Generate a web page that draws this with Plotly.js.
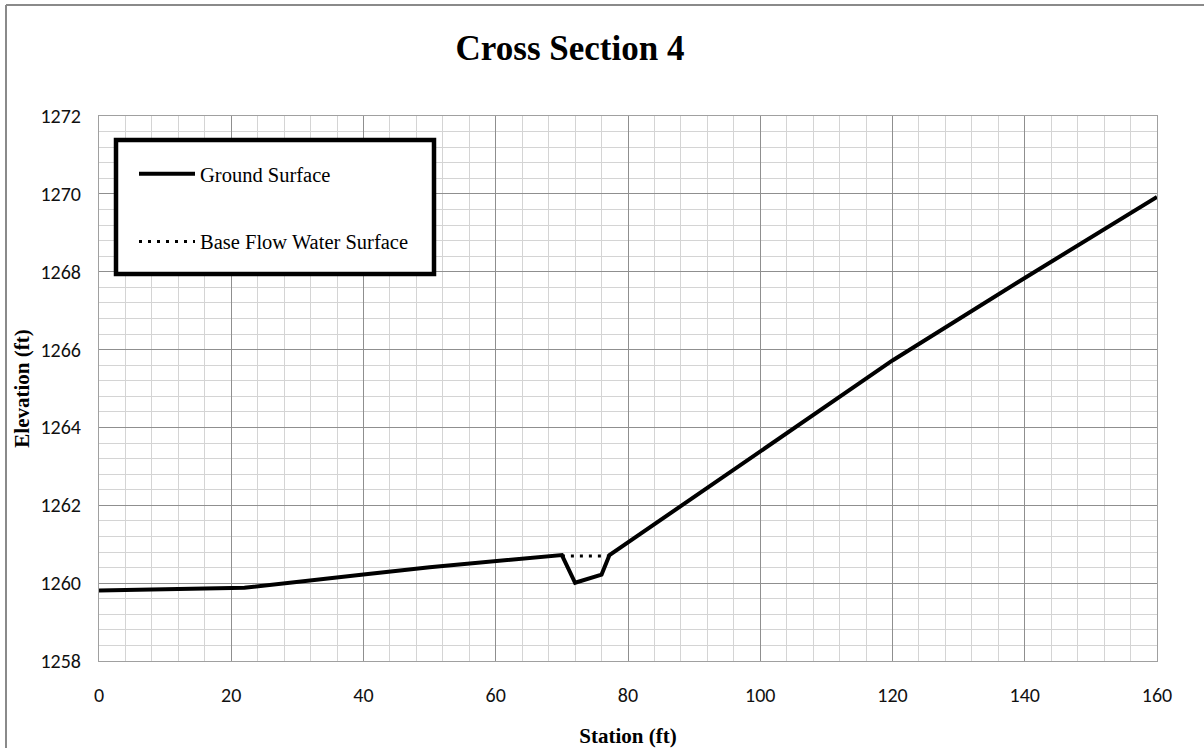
<!DOCTYPE html>
<html>
<head>
<meta charset="utf-8">
<script src="https://cdn.plot.ly/plotly-3.0.1.min.js"></script>
<style>
html,body{margin:0;padding:0;background:#fff;}
#chart{width:1204px;height:748px;}
</style>
</head>
<body>
<div id="chart"></div>
<script>
// Ground surface profile
const groundStation = [0, 22, 40, 50, 70, 72, 76, 77.2, 120, 140, 160];
const groundElev = [1259.81, 1259.88, 1260.22, 1260.41, 1260.72, 1260.01, 1260.22, 1260.72, 1265.72, 1267.84, 1269.92];
// Base flow water surface
const waterStation = [70, 77.2];
const waterElev = [1260.7, 1260.7];
// Axis ticks
const xTicks = [0, 20, 40, 60, 80, 100, 120, 140, 160];
const yTicks = [1258, 1260, 1262, 1264, 1266, 1268, 1270, 1272];

const serif = 'Liberation Serif, Times New Roman, serif';
const sans = 'Carlito, Lato, sans-serif';

const W = 1204, H = 748;
const mL = 99, mR = 47, mT = 116, mB = 87;
const pw = W - mL - mR, ph = H - mT - mB;
const px = v => (v - mL) / pw;
const py = v => (H - mB - v) / ph;

const traces = [
  {
    x: groundStation, y: groundElev, type: 'scatter', mode: 'lines',
    name: 'Ground Surface', legendgroup: 'g1',
    line: {color: '#000', width: 4}
  },
  {
    x: waterStation, y: waterElev, type: 'scatter', mode: 'lines',
    name: 'Base Flow Water Surface', legendgroup: 'g2',
    line: {color: '#000', width: 3, dash: '3px,6px'}
  }
];

const layout = {
  width: W, height: H,
  margin: {l: mL, r: mR, t: mT, b: mB},
  paper_bgcolor: '#fff', plot_bgcolor: '#fff',
  showlegend: true,
  title: {
    text: 'Cross Section 4',
    x: 570 / W, xref: 'container', xanchor: 'center',
    y: 1 - 48 / H, yref: 'container', yanchor: 'middle',
    font: {family: serif, size: 35, color: '#000', weight: 'bold'}
  },
  xaxis: {
    range: [0, 160], tickvals: xTicks, ticktext: xTicks.map(String),
    showgrid: true, gridcolor: '#8f8f8f', gridwidth: 1,
    minor: {dtick: 4, showgrid: true, gridcolor: '#d4d4d4', gridwidth: 1},
    showline: true, linecolor: '#a0a0a0', linewidth: 1, mirror: true,
    zeroline: false, ticks: '', ticklabelstandoff: 16,
    tickfont: {family: sans, size: 20, color: '#111'},
    title: {text: 'Station (ft)', standoff: 23, font: {family: serif, size: 21, color: '#000', weight: 'bold'}}
  },
  yaxis: {
    range: [1258, 1272], tickvals: yTicks, ticktext: yTicks.map(String),
    showgrid: true, gridcolor: '#8f8f8f', gridwidth: 1,
    minor: {dtick: 0.4, showgrid: true, gridcolor: '#d4d4d4', gridwidth: 1},
    showline: true, linecolor: '#a0a0a0', linewidth: 1, mirror: true,
    zeroline: false, ticks: '', ticklabelstandoff: 13,
    tickfont: {family: sans, size: 20, color: '#111'},
    title: {text: 'Elevation (ft)', standoff: 5, font: {family: serif, size: 21, color: '#000', weight: 'bold'}}
  },
  legend: {
    x: px(134), xanchor: 'left', y: py(154), yanchor: 'top',
    bgcolor: 'rgba(0,0,0,0)', borderwidth: 0,
    traceorder: 'grouped', tracegroupgap: 38, itemwidth: 56,
    font: {family: serif, size: 20.5, color: '#000'}
  },
  shapes: [
    {type: 'rect', xref: 'paper', yref: 'paper', layer: 'above',
     x0: px(116), x1: px(434), y0: py(274), y1: py(140),
     line: {color: '#000', width: 4.5}, fillcolor: '#fff'},
    {type: 'line', xref: 'paper', yref: 'paper', layer: 'above',
     x0: px(6), x1: px(1204), y0: py(5), y1: py(5),
     line: {color: '#8a8a8a', width: 2}},
    {type: 'line', xref: 'paper', yref: 'paper', layer: 'above',
     x0: px(6), x1: px(6), y0: py(5), y1: py(748),
     line: {color: '#8a8a8a', width: 2}}
  ]
};

Plotly.newPlot('chart', traces, layout, {displayModeBar: false, staticPlot: true});
</script>
</body>
</html>
